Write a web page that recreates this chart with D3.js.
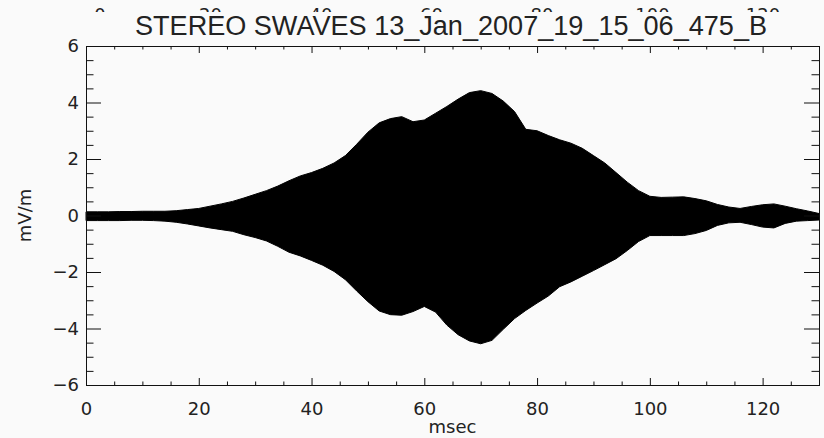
<!DOCTYPE html>
<html><head><meta charset="utf-8">
<script src="https://cdn.jsdelivr.net/npm/d3@7"></script>
<style>body{margin:0;background:#fafafa;overflow:hidden}</style>
</head><body>
<svg id="c" width="824" height="438"></svg>
<script>
const titleText = "STEREO SWAVES 13_Jan_2007_19_15_06_475_B";
const xLabel = "msec";
const yLabel = "mV/m";
const timeMs = [0,2,4,6,8,10,12,14,16,18,20,22,24,26,28,30,32,34,36,38,40,42,44,46,48,50,52,54,56,58,60,62,64,66,68,70,72,74,76,78,80,82,84,86,88,90,92,94,96,98,100,102,104,106,108,110,112,114,116,118,120,122,124,126,128,130];
const upperEnv = [0.13,0.13,0.13,0.14,0.14,0.15,0.15,0.15,0.17,0.21,0.25,0.33,0.41,0.50,0.62,0.75,0.88,1.04,1.23,1.40,1.52,1.67,1.86,2.12,2.52,2.95,3.28,3.43,3.50,3.32,3.38,3.62,3.86,4.12,4.35,4.42,4.32,4.05,3.68,3.05,3.00,2.83,2.68,2.56,2.38,2.12,1.86,1.52,1.18,0.88,0.68,0.64,0.65,0.66,0.60,0.52,0.39,0.30,0.25,0.32,0.38,0.41,0.33,0.24,0.16,0.07];
const lowerEnv = [-0.18,-0.18,-0.18,-0.18,-0.17,-0.17,-0.18,-0.20,-0.24,-0.30,-0.37,-0.44,-0.50,-0.56,-0.68,-0.78,-0.90,-1.09,-1.30,-1.43,-1.59,-1.76,-1.98,-2.27,-2.67,-3.05,-3.38,-3.51,-3.53,-3.40,-3.22,-3.42,-3.88,-4.22,-4.44,-4.54,-4.42,-4.03,-3.65,-3.36,-3.10,-2.85,-2.52,-2.35,-2.15,-1.95,-1.74,-1.53,-1.24,-0.92,-0.71,-0.71,-0.71,-0.71,-0.64,-0.53,-0.35,-0.26,-0.24,-0.32,-0.41,-0.44,-0.28,-0.20,-0.18,-0.16];
const xTicks = [0,20,40,60,80,100,120];
const xMinorTicks = [5,10,15,25,30,35,45,50,55,65,70,75,85,90,95,105,110,115,125];
const yTicks = [-6,-4,-2,0,2,4,6];
const yMinorTicks = [-5.5,-5,-4.5,-3.5,-3,-2.5,-1.5,-1,-0.5,0.5,1,1.5,2.5,3,3.5,4.5,5,5.5];
const topLabels = [0,20,40,60,80,100,120];

const svg = d3.select("#c");
const BG = "#fafafa", INK = "#111";
const FONT = "'DejaVu Sans', sans-serif";
const x = d3.scaleLinear().domain([0,130]).range([86,819]);
const y = d3.scaleLinear().domain([-6,6]).range([385,46]);
const xTop = d3.scaleLinear().domain([0,120]).range([100,763]);

svg.append("rect").attr("width",824).attr("height",438).attr("fill",BG);

// clipped top labels (only their tops visible), inside a small viewport
const topVp = svg.append("svg").attr("x",0).attr("y",0).attr("width",824).attr("height",12)
  .attr("overflow","hidden");
topVp.selectAll("text").data(topLabels).join("text")
  .attr("x", d => xTop(d)).attr("y", 21)
  .attr("text-anchor","middle").attr("font-family",FONT).attr("font-size",18)
  .attr("fill","#222").text(d => d);

// title
svg.append("text").attr("x",135).attr("y",35)
  .attr("font-family","'Liberation Sans', Arial, sans-serif").attr("font-size",27)
  .attr("textLength",632).attr("lengthAdjust","spacingAndGlyphs")
  .attr("fill","#222").text(titleText);

// waveform envelope
const area = d3.area()
  .x((d,i) => x(timeMs[i]))
  .y0((d,i) => y(lowerEnv[i]))
  .y1((d,i) => y(upperEnv[i]))
  .curve(d3.curveLinear);
svg.append("path").datum(timeMs).attr("d", area)
  .attr("fill","#000").attr("stroke","#000").attr("stroke-width",1);

// axes
function style(g, labels){
  g.select(".domain").remove();
  g.selectAll("line").attr("stroke",INK);
  g.selectAll("text").attr("font-family",FONT).attr("font-size",18).attr("fill","#222");
  if(!labels) g.selectAll("text").remove();
}
svg.append("g").attr("transform",`translate(0,${y(-6)})`)
  .call(d3.axisBottom(x).tickValues(xTicks).tickSize(-7).tickPadding(17).tickFormat(d3.format("d")))
  .call(g => style(g,true));
svg.append("g").attr("transform",`translate(0,${y(-6)})`)
  .call(d3.axisBottom(x).tickValues(xMinorTicks).tickSize(-3.5).tickFormat(""))
  .call(g => style(g,false));
svg.append("g").attr("transform",`translate(0,${y(6)})`)
  .call(d3.axisTop(x).tickValues(xTicks).tickSize(-7).tickFormat(""))
  .call(g => style(g,false));
svg.append("g").attr("transform",`translate(0,${y(6)})`)
  .call(d3.axisTop(x).tickValues(xMinorTicks).tickSize(-3.5).tickFormat(""))
  .call(g => style(g,false));
svg.append("g").attr("transform",`translate(${x(0)},0)`)
  .call(d3.axisLeft(y).tickValues(yTicks).tickSize(-15).tickPadding(7).tickFormat(d3.format("d")))
  .call(g => style(g,true));
svg.append("g").attr("transform",`translate(${x(0)},0)`)
  .call(d3.axisLeft(y).tickValues(yMinorTicks).tickSize(-7.5).tickFormat(""))
  .call(g => style(g,false));
svg.append("g").attr("transform",`translate(${x(130)},0)`)
  .call(d3.axisRight(y).tickValues(yTicks).tickSize(-15).tickFormat(""))
  .call(g => style(g,false));
svg.append("g").attr("transform",`translate(${x(130)},0)`)
  .call(d3.axisRight(y).tickValues(yMinorTicks).tickSize(-7.5).tickFormat(""))
  .call(g => style(g,false));

// frame
svg.append("rect")
  .attr("x",x(0)+0.5).attr("y",y(6)+0.5)
  .attr("width",x(130)-x(0)).attr("height",y(-6)-y(6))
  .attr("fill","none").attr("stroke",INK).attr("stroke-width",1);

// axis titles
svg.append("text").attr("x",(x(0)+x(130))/2).attr("y",433)
  .attr("text-anchor","middle").attr("font-family",FONT).attr("font-size",18)
  .attr("fill","#222").text(xLabel);
svg.append("text").attr("transform",`translate(31,${(y(6)+y(-6))/2}) rotate(-90)`)
  .attr("text-anchor","middle").attr("font-family",FONT).attr("font-size",18)
  .attr("fill","#222").text(yLabel);
</script>
</body></html>
